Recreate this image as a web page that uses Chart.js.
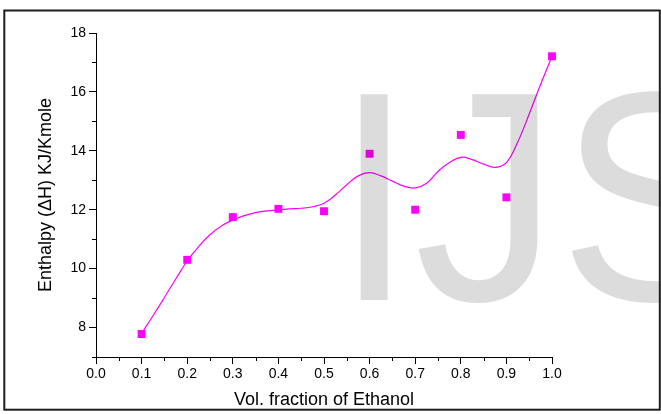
<!DOCTYPE html>
<html>
<head>
<meta charset="utf-8">
<script src="https://cdn.jsdelivr.net/npm/chart.js@4/dist/chart.umd.min.js"></script>
<style>
  html, body { margin: 0; padding: 0; background: #ffffff; }
  canvas { display: block; }
</style>
</head>
<body>
<canvas id="chart" width="661" height="414"></canvas>
<script>
// Measured enthalpy of the mixture against ethanol volume fraction
const volFraction = [0.1, 0.2, 0.3, 0.4, 0.5, 0.6, 0.7, 0.8, 0.9, 1.0];
const enthalpy = [7.78, 10.30, 11.75, 12.03, 11.95, 13.90, 12.00, 14.54, 12.42, 17.21];

// Smoothed fit curve through the measurements
const fitX = [0.1, 0.125, 0.15, 0.175, 0.2, 0.225, 0.25, 0.275, 0.3, 0.325, 0.35, 0.375, 0.4, 0.425, 0.45, 0.475,
              0.5, 0.525, 0.55, 0.575, 0.6, 0.625, 0.65, 0.675, 0.7, 0.725, 0.75, 0.775, 0.8, 0.825, 0.85, 0.875,
              0.9, 0.925, 0.95, 0.975, 1.0];
const fitY = [7.80, 8.40, 9.02, 9.65, 10.26, 10.75, 11.15, 11.45, 11.65, 11.80, 11.90, 11.96, 11.99, 12.03, 12.05, 12.10,
              12.22, 12.50, 12.85, 13.15, 13.26, 13.15, 12.97, 12.80, 12.74, 12.90, 13.30, 13.60, 13.78, 13.70, 13.55, 13.44,
              13.60, 14.30, 15.25, 16.25, 17.20];

// Axis ticks
const xTicks = [0.0, 0.1, 0.2, 0.3, 0.4, 0.5, 0.6, 0.7, 0.8, 0.9, 1.0];
const xMinorTicks = [0.05, 0.15, 0.25, 0.35, 0.45, 0.55, 0.65, 0.75, 0.85, 0.95];
const yTicks = [8, 10, 12, 14, 16, 18];
const yMinorTicks = [7, 9, 11, 13, 15, 17];

const FONT = "'Liberation Sans', Arial, sans-serif";
const MAGENTA = '#ff00ff';

// Short unlabelled ticks between the major ones
const minorTicks = {
  id: 'minorTicks',
  afterDraw(chart) {
    const { ctx, scales: { x, y } } = chart;
    ctx.save();
    ctx.strokeStyle = '#000000';
    ctx.lineWidth = 1;
    ctx.beginPath();
    xMinorTicks.forEach(v => {
      const px = Math.round(x.getPixelForValue(v)) + 0.5;
      ctx.moveTo(px, y.bottom);
      ctx.lineTo(px, y.bottom + 4);
    });
    yMinorTicks.forEach(v => {
      const py = Math.round(y.getPixelForValue(v)) + 0.5;
      ctx.moveTo(x.left - 4, py);
      ctx.lineTo(x.left, py);
    });
    ctx.stroke();
    ctx.restore();
  }
};

// Large grey "IJS" mark blended over the plot
const watermark = {
  id: 'watermark',
  afterDatasetsDraw(chart) {
    const { ctx } = chart;
    ctx.save();
    ctx.globalCompositeOperation = 'multiply';
    ctx.fillStyle = '#dcdcdc';
    ctx.font = '289px ' + FONT;
    ctx.textBaseline = 'alphabetic';
    ctx.textAlign = 'left';
    ctx.translate(334, 300);
    ctx.scale(1, 1.035);
    ctx.fillText('IJS', 0, 0);
    ctx.restore();
  }
};

// Frame round the whole figure
const frame = {
  id: 'frame',
  afterDraw(chart) {
    const { ctx } = chart;
    ctx.save();
    ctx.strokeStyle = '#1e1e1e';
    ctx.lineWidth = 2;
    ctx.strokeRect(4.3, 10.5, 655.5, 399.2);
    ctx.restore();
  }
};

new Chart(document.getElementById('chart'), {
  type: 'scatter',
  data: {
    datasets: [
      {
        label: 'Fit',
        type: 'line',
        data: fitX.map((v, i) => ({ x: v, y: fitY[i] })),
        borderColor: MAGENTA,
        borderWidth: 1.2,
        pointRadius: 0,
        tension: 0.4,
        fill: false,
        clip: false,
        order: 2
      },
      {
        label: 'Enthalpy',
        data: volFraction.map((v, i) => ({ x: v, y: enthalpy[i] })),
        pointStyle: 'rect',
        pointRadius: 5.6,
        pointBackgroundColor: MAGENTA,
        pointBorderWidth: 0,
        borderColor: MAGENTA,
        clip: false,
        order: 1
      }
    ]
  },
  options: {
    responsive: false,
    animation: false,
    layout: { padding: { left: 0, top: 33, right: 109, bottom: 0 } },
    plugins: {
      legend: { display: false },
      tooltip: { enabled: false }
    },
    scales: {
      x: {
        type: 'linear',
        min: 0,
        max: 1,
        afterBuildTicks: s => { s.ticks = xTicks.map(v => ({ value: v })); },
        afterFit: s => { s.height = 57; },
        ticks: {
          callback: v => Number(v).toFixed(1),
          color: '#000000',
          font: { family: FONT, size: 14 },
          padding: 2,
          maxRotation: 0,
          autoSkip: false
        },
        grid: {
          drawOnChartArea: false,
          drawTicks: true,
          tickLength: 7,
          color: '#000000'
        },
        border: { display: true, color: '#000000', width: 1 },
        title: {
          display: true,
          text: 'Vol. fraction of Ethanol',
          color: '#000000',
          font: { family: FONT, size: 18 },
          padding: { top: 0, bottom: 3 }
        }
      },
      y: {
        type: 'linear',
        min: 7,
        max: 18,
        afterBuildTicks: s => { s.ticks = yTicks.map(v => ({ value: v })); },
        afterFit: s => { s.width = 96; },
        ticks: {
          color: '#000000',
          font: { family: FONT, size: 14 },
          padding: 3,
          autoSkip: false
        },
        grid: {
          drawOnChartArea: false,
          drawTicks: true,
          tickLength: 7,
          color: '#000000'
        },
        border: { display: true, color: '#000000', width: 1 },
        title: {
          display: true,
          text: 'Enthalpy (\u0394H) KJ/Kmole',
          color: '#000000',
          font: { family: FONT, size: 18 },
          padding: { top: 35, bottom: 0 }
        }
      }
    }
  },
  plugins: [watermark, minorTicks, frame]
});
</script>
</body>
</html>
